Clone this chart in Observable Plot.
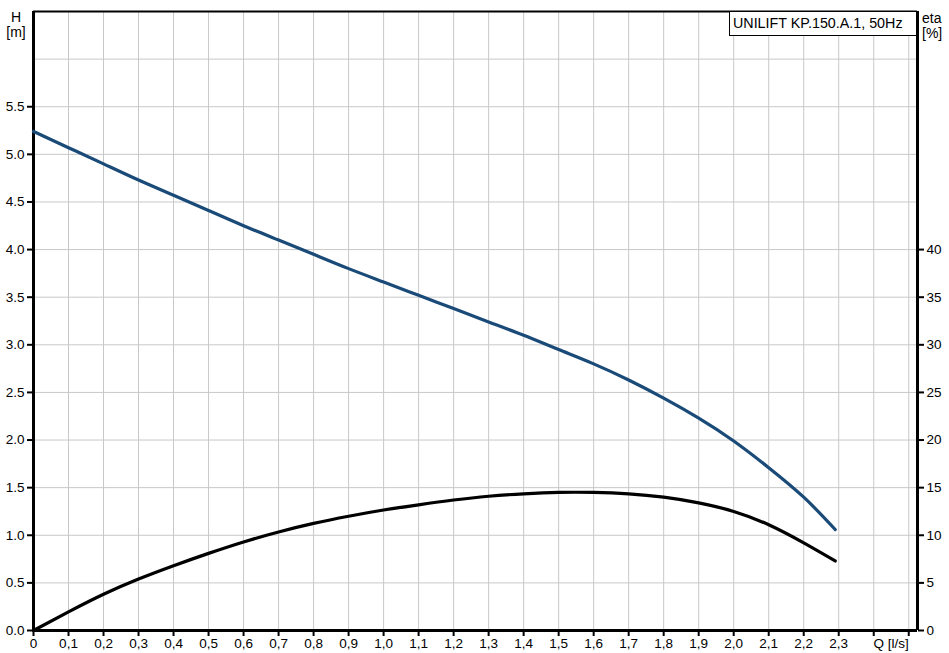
<!DOCTYPE html>
<html>
<head>
<meta charset="utf-8">
<script src="https://cdn.jsdelivr.net/npm/d3@7"></script>
<script src="https://cdn.jsdelivr.net/npm/@observablehq/plot@0.6"></script>
<style>
  html, body { margin: 0; padding: 0; background: #fff; }
  #wrap { position: relative; width: 949px; height: 653px; font-family: "Liberation Sans", Arial, sans-serif; }
  #wrap svg text { font-size: 13.5px; font-family: "Liberation Sans", Arial, sans-serif; fill: #000; }
  .lbl { position: absolute; font-size: 14px; line-height: 15px; color: #000; text-align: center; }
  #title { position: absolute; left: 729px; top: 11px; width: 183px; height: 23px; border: 1px solid #000; background: #fff;
           font-size: 14.3px; line-height: 23px; text-align: left; padding-left: 3px; color: #000; white-space: nowrap; }
</style>
</head>
<body>
<div id="wrap"></div>
<script>
// Data
const titleText = "UNILIFT KP.150.A.1, 50Hz";
const flowQ = [0, 0.1, 0.2, 0.3, 0.4, 0.5, 0.6, 0.7, 0.8, 0.9, 1.0, 1.1, 1.2, 1.3, 1.4, 1.5, 1.6, 1.7, 1.8, 1.9, 2.0, 2.1, 2.2, 2.29];
const headH = [5.24, 5.07, 4.90, 4.73, 4.57, 4.41, 4.25, 4.10, 3.95, 3.80, 3.66, 3.52, 3.38, 3.24, 3.10, 2.95, 2.80, 2.63, 2.44, 2.23, 1.99, 1.71, 1.40, 1.06];
const effEta = [0, 1.95, 3.8, 5.4, 6.8, 8.1, 9.3, 10.35, 11.25, 12.0, 12.65, 13.2, 13.7, 14.1, 14.35, 14.5, 14.5, 14.35, 14.0, 13.4, 12.5, 11.1, 9.2, 7.3];
const xTicks = d3.range(0, 26).map(i => i / 10);      // 0 .. 2.5
const xLabelTicks = d3.range(0, 24).map(i => i / 10); // 0 .. 2.3
const hTicks = d3.range(0, 12).map(i => i / 2);       // 0 .. 5.5
const hGrid = d3.range(1, 13).map(i => i / 2);        // 0.5 .. 6.0
const etaTicks = [0, 5, 10, 15, 20, 25, 30, 35, 40];
const etaPerH = 10; // eta axis: 10 % per 1 m
const xMax = 2.525, yMax = 6.5;

const head = flowQ.map((q, i) => ({q, v: headH[i]}));
const eff = flowQ.map((q, i) => ({q, v: effEta[i] / etaPerH}));

const fmtX = d => d === 0 ? "0" : d3.format(".1f")(d).replace(".", ",");

const chart = Plot.plot({
  width: 949, height: 653,
  marginLeft: 33, marginRight: 32, marginTop: 11, marginBottom: 23,
  style: {fontFamily: "Liberation Sans, Arial, sans-serif", fontSize: "13.5px", color: "#000", background: "#fff"},
  x: {domain: [0, xMax], axis: null},
  y: {domain: [0, yMax], axis: null},
  marks: [
    Plot.gridX(xTicks.slice(1), {stroke: "#c8c8c8", strokeOpacity: 1, strokeWidth: 1}),
    Plot.gridY(hGrid, {stroke: "#c8c8c8", strokeOpacity: 1, strokeWidth: 1}),
    Plot.axisX(xTicks, {anchor: "bottom", tickSize: 6, tickPadding: 2, strokeWidth: 2,
      tickFormat: d => xLabelTicks.includes(Math.round(d * 10) / 10) ? fmtX(d) : "", label: null}),
    Plot.axisY(hTicks, {anchor: "left", tickSize: 6, tickPadding: 3, strokeWidth: 2,
      tickFormat: d3.format(".1f"), label: null}),
    Plot.axisY(etaTicks.map(e => e / etaPerH), {anchor: "right", tickSize: 6, tickPadding: 3, strokeWidth: 2,
      tickFormat: d => String(Math.round(d * etaPerH)), label: null}),
    Plot.ruleY([yMax], {stroke: "#000", strokeWidth: 2}),
    Plot.ruleX([0], {stroke: "#000", strokeWidth: 3}),
    Plot.ruleX([xMax], {stroke: "#000", strokeWidth: 3}),
    Plot.ruleY([0], {stroke: "#000", strokeWidth: 3}),
    Plot.line(head, {x: "q", y: "v", stroke: "#1a4a78", strokeWidth: 3.2, curve: "natural"}),
    Plot.line(eff, {x: "q", y: "v", stroke: "#000", strokeWidth: 3.2, curve: "natural"}),
    Plot.text(["Q [l/s]"], {x: [2.45], y: [0], dy: 13, fill: "#000", textAnchor: "middle"})
  ]
});

const wrap = document.getElementById("wrap");
wrap.appendChild(chart);
function add(text, css, id) {
  const d = document.createElement("div");
  if (id) d.id = id; else d.className = "lbl";
  d.innerHTML = text;
  Object.assign(d.style, css);
  wrap.appendChild(d);
}
add("H<br>[m]", {left: "3px", top: "10px", width: "26px"});
add("eta<br>[%]", {left: "922px", top: "11px", width: "27px", textAlign: "left"});
add(titleText, {}, "title");
</script>
</body>
</html>
